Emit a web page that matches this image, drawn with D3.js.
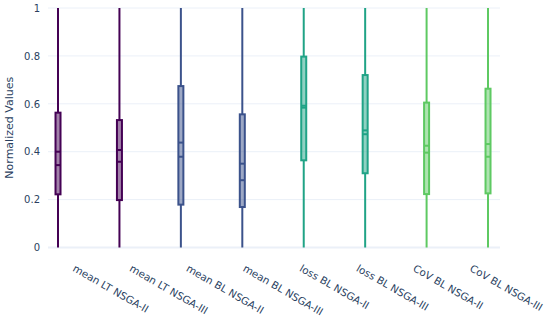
<!DOCTYPE html>
<html>
<head>
<meta charset="utf-8">
<script src="https://cdn.jsdelivr.net/npm/d3@7"></script>
<style>
  body { margin: 0; background: #fff; }
  text { font-family: "DejaVu Sans", Verdana, sans-serif; fill: #2a3f5f; }
</style>
</head>
<body>
<div id="chart"></div>
<script>
// box plot of normalized values per metric / algorithm
const categories = ["mean LT NSGA-II", "mean LT NSGA-III", "mean BL NSGA-II", "mean BL NSGA-III",
  "loss BL NSGA-II", "loss BL NSGA-III", "CoV BL NSGA-II", "CoV BL NSGA-III"];
const lowerFence = [0, 0, 0, 0, 0, 0, 0, 0];
const upperFence = [1, 1, 1, 1, 1, 1, 1, 1];
const q1 = [0.222, 0.198, 0.179, 0.169, 0.364, 0.310, 0.223, 0.226];
const q3 = [0.563, 0.532, 0.674, 0.556, 0.797, 0.720, 0.605, 0.663];
const medians = [0.344, 0.358, 0.379, 0.281, 0.584, 0.473, 0.396, 0.379];
const means = [0.400, 0.407, 0.438, 0.350, 0.592, 0.489, 0.425, 0.432];
const colors = ["#440154", "#440154", "#3b528b", "#3b528b", "#20a386", "#20a386", "#5ec962", "#5ec962"];
const yTicks = [0, 0.2, 0.4, 0.6, 0.8, 1];

const data = categories.map((c, i) => ({
  name: c, lo: lowerFence[i], hi: upperFence[i], q1: q1[i], q3: q3[i],
  med: medians[i], mean: means[i], color: colors[i], idx: i
}));

const width = 550, height = 321;
const margin = { top: 8, right: 50, bottom: 73.5, left: 48 };

const svg = d3.select("#chart").append("svg")
  .attr("width", width)
  .attr("height", height);

const x = d3.scaleLinear()
  .domain([-0.163, 7.195])
  .range([margin.left, width - margin.right]);

// the rotated labels sit on a slightly tighter spacing than the boxes
const labelX = d3.scaleLinear()
  .domain([0, 7])
  .range([72, 469]);

const y = d3.scaleLinear()
  .domain([0, 1])
  .range([height - margin.bottom, margin.top]);

// gridlines
svg.append("g")
  .selectAll("line")
  .data(yTicks)
  .join("line")
  .attr("x1", margin.left)
  .attr("x2", width - margin.right)
  .attr("y1", d => y(d))
  .attr("y2", d => y(d))
  .attr("stroke", "#ebf0f8")
  .attr("stroke-width", d => d === 0 ? 2 : 1);

const yAxis = d3.axisLeft(y)
  .tickValues(yTicks)
  .tickFormat(d => d === 0 || d === 1 ? d3.format("d")(d) : d3.format(".1f")(d))
  .tickSize(0)
  .tickPadding(8);

svg.append("g")
  .attr("class", "axis y-axis")
  .attr("transform", `translate(${margin.left},0)`)
  .call(yAxis)
  .call(g => g.select(".domain").remove())
  .selectAll("text")
  .style("font-size", "10px")
  .attr("fill", "#2a3f5f");

svg.append("text")
  .attr("transform", `translate(13,${y(0.5)}) rotate(-90)`)
  .attr("text-anchor", "middle")
  .style("font-size", "11px")
  .text("Normalized Values");

// x labels
svg.append("g")
  .selectAll("text")
  .data(data)
  .join("text")
  .attr("transform", d => `translate(${labelX(d.idx)},${height - margin.bottom + 23}) rotate(30)`)
  .attr("text-anchor", "start")
  .style("font-size", "10.3px")
  .text(d => d.name);

const boxW = 5;
const boxes = svg.append("g")
  .selectAll("g")
  .data(data)
  .join("g");

// whiskers (only outside the box)
boxes.append("line")
  .attr("x1", d => x(d.idx))
  .attr("x2", d => x(d.idx))
  .attr("y1", d => y(d.lo))
  .attr("y2", d => y(d.q1))
  .attr("stroke", d => d.color)
  .attr("stroke-width", 2);

boxes.append("line")
  .attr("x1", d => x(d.idx))
  .attr("x2", d => x(d.idx))
  .attr("y1", d => y(d.q3))
  .attr("y2", d => y(d.hi))
  .attr("stroke", d => d.color)
  .attr("stroke-width", 2);

// box
boxes.append("rect")
  .attr("x", d => x(d.idx) - boxW / 2)
  .attr("width", boxW)
  .attr("y", d => y(d.q3))
  .attr("height", d => y(d.q1) - y(d.q3))
  .attr("fill", d => d.color)
  .attr("fill-opacity", 0.5)
  .attr("stroke", d => d.color)
  .attr("stroke-width", 2);

// median and mean
boxes.append("line")
  .attr("x1", d => x(d.idx) - boxW / 2)
  .attr("x2", d => x(d.idx) + boxW / 2)
  .attr("y1", d => y(d.med))
  .attr("y2", d => y(d.med))
  .attr("stroke", d => d.color)
  .attr("stroke-width", 2);

boxes.append("line")
  .attr("x1", d => x(d.idx) - boxW / 2)
  .attr("x2", d => x(d.idx) + boxW / 2)
  .attr("y1", d => y(d.mean))
  .attr("y2", d => y(d.mean))
  .attr("stroke", d => d.color)
  .attr("stroke-width", 2);
</script>
</body>
</html>
